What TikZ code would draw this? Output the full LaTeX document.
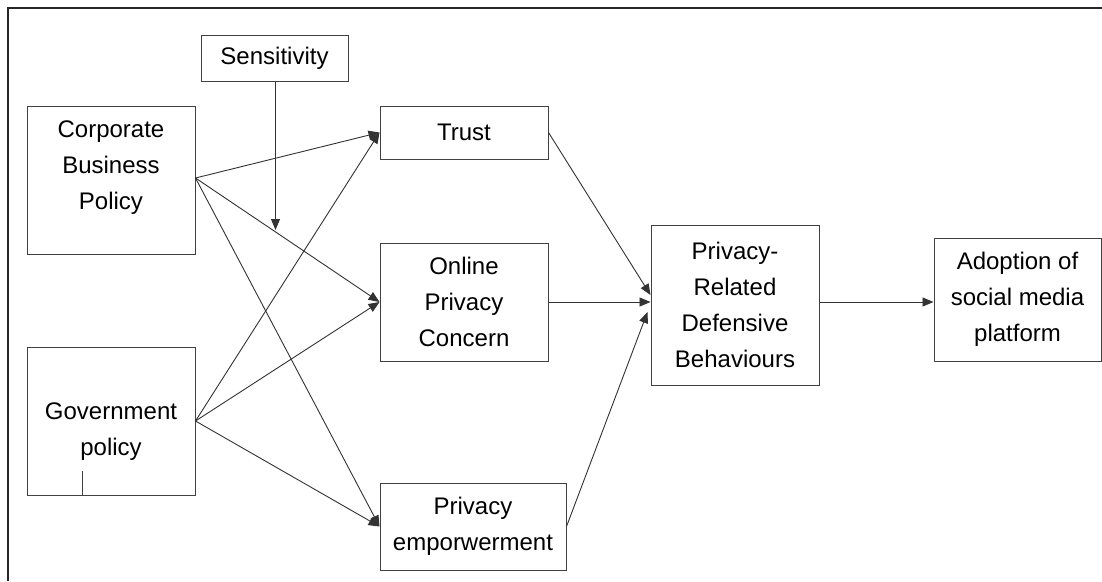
\documentclass[tikz,border=0pt]{standalone}
\usepackage{fontspec}
\setmainfont{Liberation Sans}
\usetikzlibrary{arrows.meta,calc}
\begin{document}
\begin{tikzpicture}[x=1pt,y=-1pt,
  boxfont/.style={font=\fontsize{24}{36}\selectfont},
  box/.style={draw=black!75, line width=1pt, fill=white, inner sep=0pt, align=center, boxfont},
  lbl/.style={inner sep=0pt, align=center, boxfont},
  link/.style={draw=black!80, line width=0.9pt, -{Triangle[length=11pt,width=9pt]}},
]
\useasboundingbox (0,0) rectangle (1102,581);
\fill[white] (0,0) rectangle (1102,581);
% frame
\draw[line width=2.5pt, black!85] (8,581) -- (8,8) -- (1102,8);

% boxes
\node[box, minimum width=147pt, minimum height=46pt] (sens) at (274.5,58) {Sensitivity};
\node[box, minimum width=168pt, minimum height=148pt] (corp) at (111,180) {};
\node[lbl] (corptext) at (111,168) {Corporate\\Business\\Policy};
\node[box, minimum width=168pt, minimum height=148pt] (gov) at (111,421) {};
\node[lbl] (govtext) at (111,432) {Government\\policy};
\node[box, minimum width=168pt, minimum height=53pt] (trust) at (464,132.5) {Trust};
\node[box, minimum width=168pt, minimum height=118pt] (online) at (464,302) {Online\\Privacy\\Concern};
\node[box, minimum width=186pt, minimum height=87pt] (emp) at (473,526.5) {Privacy\\emporwerment};
\node[box, minimum width=168pt, minimum height=160pt] (prdb) at (735,305) {Privacy-\\Related\\Defensive\\Behaviours};
\node[box, minimum width=167pt, minimum height=123pt] (adopt) at (1017.5,299.5) {Adoption of\\social media\\platform};

% stray tick inside the government box
\draw[black!75, line width=0.8pt] ([xshift=-29pt]gov.south) -- ++(0,-25);

% moderating arrow
\coordinate (modpt) at (275.5,230);
\draw[link] (sens.south -| modpt) -- (modpt);

% antecedents
\draw[link] ([yshift=2pt]corp.east) -- (trust.west);
\draw[link] ([yshift=2pt]corp.east) -- (online.west);
\draw[link] ([yshift=2pt]corp.east) -- (emp.west);
\draw[link] (gov.east) -- (trust.west);
\draw[link] (gov.east) -- (online.west);
\draw[link] (gov.east) -- (emp.west);

% mediators to behaviours
\draw[link] (trust.east) -- ([yshift=10pt]prdb.west);
\draw[link] (online.east) -- (online.east -| prdb.west);
\draw[link] (emp.east) -- ([xshift=-3pt,yshift=-7pt]prdb.west);

% outcome
\draw[link] ([yshift=3pt]prdb.east) -- ([yshift=3pt]prdb.east -| adopt.west);
\end{tikzpicture}
\end{document}
